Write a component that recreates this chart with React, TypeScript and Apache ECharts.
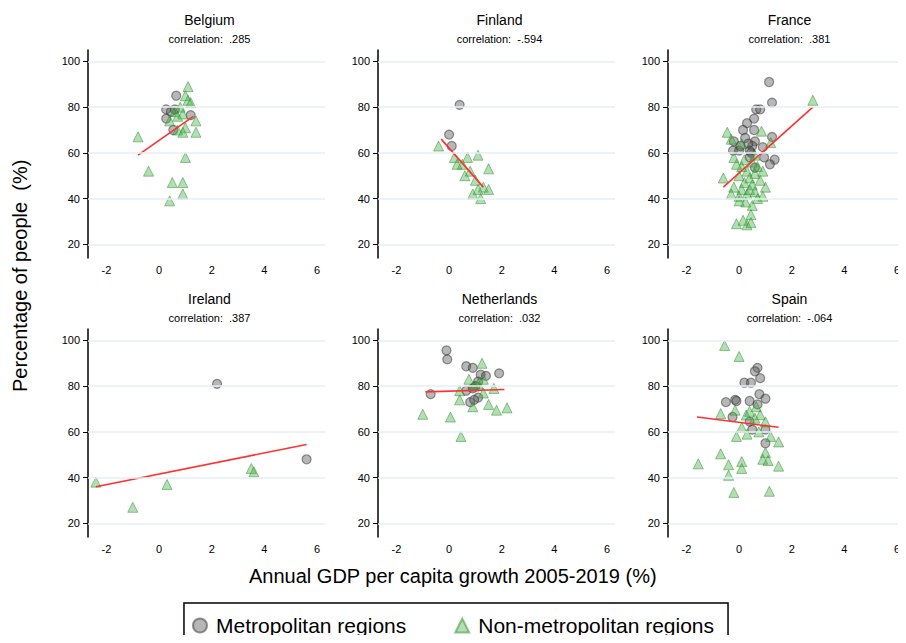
import { useEffect, useRef } from 'react'
import * as echarts from 'echarts'

type Pt = [number, number]

const countries = ['Belgium', 'Finland', 'France', 'Ireland', 'Netherlands', 'Spain']
const correlations = ['.285', '-.594', '.381', '.387', '.032', '-.064']
const yTicks = [20, 40, 60, 80, 100]
const xTicks = [-2, 0, 2, 4, 6]

const metroPoints: Pt[][] = [
  [[0.65, 85], [0.27, 79], [0.6, 79], [0.27, 75], [1.2, 76.5], [0.54, 70], [0.45, 78]],
  [[0.4, 81], [0.0, 68], [0.1, 63]],
  [[1.14, 91], [1.25, 82], [0.65, 79], [0.8, 79], [0.57, 75], [0.3, 73], [0.15, 70], [0.57, 70], [0.23, 66.5], [1.25, 67], [0.6, 65], [0.5, 63], [-0.23, 61], [0, 61], [0.45, 60], [0.9, 62.5], [0.4, 58], [0.95, 58], [1.35, 57], [1.17, 55], [0.6, 53.5], [-0.2, 65], [0.05, 63], [0.35, 64], [0.4, 61]],
  [[2.2, 81], [5.6, 48]],
  [[-0.1, 95.6], [-0.07, 91.7], [0.65, 88.7], [0.9, 88], [1.9, 85.6], [1.2, 85], [1.4, 84.5], [1.1, 82], [1.0, 80], [-0.7, 76.5], [0.65, 78], [0.9, 79], [1.1, 75], [0.8, 73], [0.95, 74]],
  [[0.7, 88], [0.6, 86.5], [0.8, 83.5], [0.2, 81.5], [0.45, 81.5], [0.77, 76.5], [1.0, 74.5], [-0.5, 73], [-0.15, 74], [-0.1, 73.5], [0.4, 73.5], [-0.25, 66.5], [0.4, 64.5], [0.5, 61], [1.0, 61], [1.0, 55], [0.7, 72]],
]

const nonMetroPoints: Pt[][] = [
  [[1.1, 89], [1.0, 85], [1.1, 83], [1.2, 82], [0.6, 78], [0.9, 77], [0.4, 74], [1.4, 74], [1.0, 71], [0.7, 70], [1.4, 69], [0.9, 69], [-0.8, 67], [1.0, 58], [-0.4, 52], [0.5, 47], [0.9, 47], [0.9, 42], [0.4, 39], [0.8, 80], [0.7, 76]],
  [[-0.4, 63], [0.2, 58], [0.7, 58], [1.1, 59], [0.5, 55], [1.5, 53], [0.8, 52], [0.6, 50], [1.0, 48], [1.3, 45], [1.5, 44], [1.1, 44], [0.9, 42], [1.2, 40], [0.3, 55]],
  [[2.8, 83], [-0.45, 69], [-0.3, 66], [0.85, 69.5], [0.1, 64], [1.2, 64.5], [-0.6, 49], [1.0, 45], [0.9, 41], [0.5, 37], [0.45, 33], [0.15, 30.5], [-0.1, 29], [0.3, 28.5], [0.45, 29.5], [0.25, 38.5], [0, 39], [0.2, 57], [0.5, 56], [0.1, 54], [0.7, 54], [0.3, 52], [0.6, 51], [0.0, 50], [0.4, 49], [0.8, 48], [0.2, 47], [0.5, 46], [-0.2, 45], [0.1, 44], [0.6, 43], [0.3, 42], [-0.3, 42], [0.0, 41], [0.7, 40], [0.4, 44], [-0.1, 55], [0.9, 52], [-0.2, 58], [0.6, 59]],
  [[-2.4, 38], [-1.0, 27], [0.3, 37], [3.5, 44], [3.6, 42.5]],
  [[1.25, 90], [0.75, 83], [1.3, 83], [0.4, 78], [1.7, 79], [1.3, 77], [0.4, 74], [0.9, 71], [1.5, 72], [1.8, 69.5], [2.2, 70.5], [-1.0, 67.7], [0.05, 66.5], [0.45, 58], [1.1, 81], [0.95, 80]],
  [[-0.55, 97.8], [0, 93], [-0.7, 68], [-0.15, 69.5], [0.27, 67.4], [0.65, 71], [0.8, 67.5], [1.0, 64.4], [0.1, 62], [-0.1, 58], [0.3, 59], [0.75, 60], [1.2, 58], [1.5, 55.6], [1.0, 51], [0.9, 48], [1.1, 47.5], [-0.7, 50.4], [-1.55, 46], [-0.4, 45.6], [0.1, 47], [1.5, 45], [-0.4, 41], [0.1, 44], [-0.2, 33.5], [1.15, 34], [0.4, 69], [0.6, 66]],
]

const fitLines: Pt[][] = [
  [[-0.8, 59], [1.3, 76]],
  [[-0.3, 66], [1.3, 45]],
  [[-0.6, 45], [2.8, 80]],
  [[-2.4, 36], [5.6, 54.5]],
  [[-0.9, 77.5], [2.1, 78.5]],
  [[-1.6, 66.5], [1.5, 62]],
]

const font = 'Liberation Sans, Arial, sans-serif'
const gridLefts = [88, 378, 668]
const gridTops = [50, 329]
const gridW = 237
const gridH = 208

export default function App() {
  const ref = useRef<HTMLDivElement>(null)

  useEffect(() => {
    if (!ref.current) return
    const chart = echarts.init(ref.current, undefined, { renderer: 'svg' })

    const grids: any[] = []
    const xAxes: any[] = []
    const yAxes: any[] = []
    const titles: any[] = []
    const series: any[] = []

    countries.forEach((c, i) => {
      const left = gridLefts[i % 3]
      const top = gridTops[Math.floor(i / 3)]
      grids.push({ left, top, width: gridW, height: gridH })
      xAxes.push({
        type: 'value', gridIndex: i, min: -2.7, max: 6.3,
        axisLine: { show: false }, axisTick: { show: false }, splitLine: { show: false },
        axisLabel: {
          color: '#000', fontSize: 11, fontFamily: font, margin: 6,
          customValues: xTicks, formatter: (v: number) => String(v),
        },
      })
      yAxes.push({
        type: 'value', gridIndex: i, min: 14, max: 105,
        axisLine: { show: true, onZero: false, lineStyle: { color: '#000', width: 1.5 } },
        axisTick: { show: true, customValues: yTicks, length: 5, lineStyle: { color: '#000' } },
        axisLabel: { color: '#000', fontSize: 11, fontFamily: font, customValues: yTicks },
        splitLine: { show: false },
      })
      titles.push({
        text: c,
        subtext: 'correlation:  ' + correlations[i],
        left: left + gridW / 2 - 2,
        top: top - 42,
        textAlign: 'center',
        itemGap: 6,
        textStyle: { fontSize: 14, fontWeight: 'normal', color: '#000', fontFamily: font },
        subtextStyle: { fontSize: 11, color: '#000', fontFamily: font },
      })
      series.push({
        type: 'line', xAxisIndex: i, yAxisIndex: i, data: [], silent: true,
        markLine: {
          silent: true, symbol: 'none', label: { show: false },
          lineStyle: { color: '#e6eef2', width: 1.5, type: 'solid' },
          data: yTicks.map((y) => ({ yAxis: y })),
        },
      })
      series.push({
        name: 'Metropolitan regions', type: 'scatter', xAxisIndex: i, yAxisIndex: i,
        data: metroPoints[i], symbol: 'circle', symbolSize: 9,
        itemStyle: { color: 'rgba(90,90,90,0.55)', borderColor: 'rgba(40,40,40,0.6)', borderWidth: 1.2 },
      })
      series.push({
        name: 'Non-metropolitan regions', type: 'scatter', xAxisIndex: i, yAxisIndex: i,
        data: nonMetroPoints[i], symbol: 'triangle', symbolSize: 10,
        itemStyle: { color: 'rgba(70,170,70,0.5)', borderColor: 'rgba(30,140,30,0.6)', borderWidth: 1 },
      })
      series.push({
        type: 'line', xAxisIndex: i, yAxisIndex: i, data: fitLines[i], symbol: 'none',
        lineStyle: { color: '#ff3030', width: 1.6 },
      })
    })

    chart.setOption({
      animation: false,
      backgroundColor: '#fff',
      textStyle: { fontFamily: font },
      title: titles,
      grid: grids,
      xAxis: xAxes,
      yAxis: yAxes,
      legend: {
        data: [
          { name: 'Metropolitan regions', icon: 'circle' },
          { name: 'Non-metropolitan regions', icon: 'triangle' },
        ],
        top: 603,
        left: 'center',
        padding: [12, 14, 20, 8],
        itemWidth: 14, itemHeight: 14, itemGap: 48,
        borderColor: '#000', borderWidth: 1.5,
        textStyle: { fontSize: 21, color: '#000', fontFamily: font, padding: [0, 0, 0, 4] },
      },
      graphic: [
        {
          type: 'text', left: 'center', top: 566,
          style: { text: 'Annual GDP per capita growth 2005-2019 (%)', fill: '#000', font: `20px ${font}` },
        },
        {
          type: 'text', x: 10, y: 392, rotation: Math.PI / 2,
          style: { text: 'Percentage of people  (%)', fill: '#000', font: `20px ${font}` },
        },
      ],
      series,
    })
    return () => chart.dispose()
  }, [])

  return <div ref={ref} style={{ width: 906, height: 643, margin: -8 }} />
}
